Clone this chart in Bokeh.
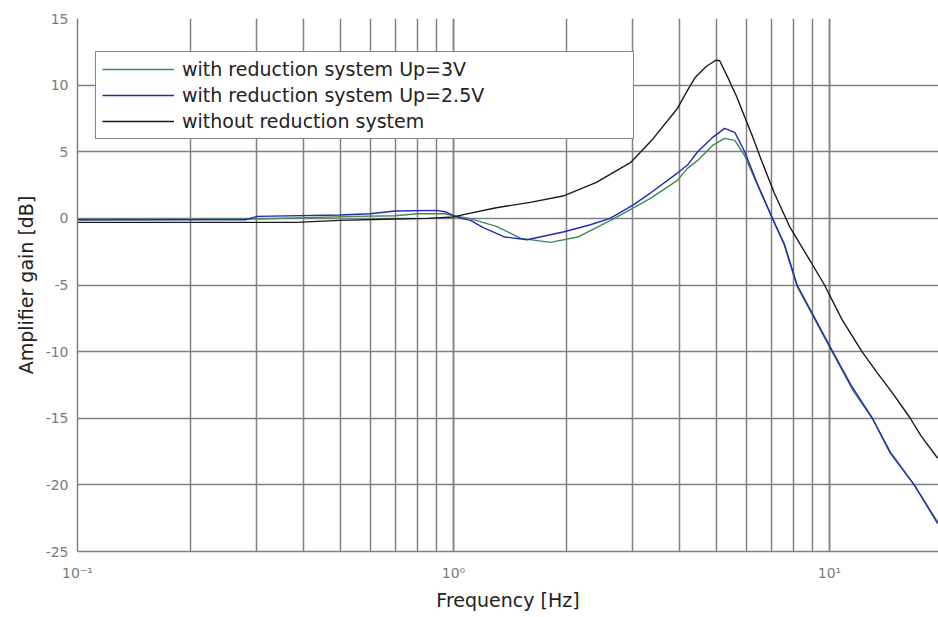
from bokeh.plotting import figure
from bokeh.models import FixedTicker, LogTicker, Legend, LegendItem
from bokeh.embed import file_html
from bokeh.resources import INLINE

# ---- data ----
freq_black = [0.1, 0.2, 0.38, 0.5, 0.7, 0.85, 1.0, 1.07, 1.3, 1.6, 1.97, 2.4, 2.96, 3.4,
              3.94, 4.19, 4.4, 4.7, 4.97, 5.1, 5.36, 5.65, 5.95, 6.25, 6.54, 7.13, 7.86,
              8.89, 9.7, 10.8, 12.2, 13.4, 14.7, 16.4, 17.5, 19.4]
gain_black = [-0.3, -0.3, -0.3, -0.15, -0.05, 0.0, 0.1, 0.3, 0.8, 1.2, 1.7, 2.7, 4.2, 6.0,
              8.25, 9.6, 10.6, 11.4, 11.85, 11.85, 10.6, 9.2, 7.6, 6.1, 4.6, 1.9, -0.7,
              -3.2, -5.0, -7.6, -10.0, -11.6, -13.1, -15.0, -16.3, -18.0]

freq_blue = [0.1, 0.28, 0.3, 0.5, 0.6, 0.7, 0.9, 0.95, 1.0, 1.05, 1.11, 1.2, 1.37, 1.57,
             1.97, 2.3, 2.61, 3.0, 3.34, 3.94, 4.19, 4.46, 4.9, 5.26, 5.6, 5.95, 6.43,
             7.05, 7.58, 8.2, 10.2, 11.4, 13.0, 14.5, 16.8, 19.4]
gain_blue = [-0.1, -0.1, 0.15, 0.25, 0.35, 0.55, 0.6, 0.5, 0.2, 0.0, -0.15, -0.7, -1.4, -1.6,
             -1.0, -0.5, 0.0, 1.0, 1.9, 3.4, 4.0, 5.0, 6.1, 6.75, 6.45, 5.0, 2.6,
             0.0, -1.9, -5.0, -10.0, -12.5, -15.0, -17.6, -20.0, -22.9]

freq_green = [0.1, 0.3, 0.55, 0.7, 0.8, 0.95, 1.0, 1.1, 1.3, 1.51, 1.81, 2.14, 2.68, 3.34,
              3.94, 4.19, 4.46, 4.9, 5.26, 5.6, 5.95, 6.43, 7.05, 7.58, 8.2, 10.2, 11.6,
              13.0, 14.5, 16.8, 19.4]
gain_green = [-0.1, -0.05, 0.15, 0.2, 0.35, 0.35, 0.2, 0.0, -0.6, -1.5, -1.8, -1.4, 0.0, 1.5,
              2.85, 3.75, 4.35, 5.5, 6.0, 5.85, 4.7, 2.5, 0.0, -2.0, -5.1, -10.1, -13.0,
              -15.0, -17.5, -20.0, -22.8]

series_labels = ["with reduction system Up=3V",
                 "with reduction system Up=2.5V",
                 "without reduction system"]

y_ticks = [-25, -20, -15, -10, -5, 0, 5, 10, 15]
y_tick_labels = {t: str(t) for t in y_ticks}
x_tick_labels = {0.1: "10\u207b\u00b9", 1: "10\u2070", 10: "10\u00b9"}

FONT = "DejaVu Sans"
GRID = "#808080"

p = figure(frame_width=861, frame_height=533, x_axis_type="log",
           x_range=(0.1, 10 ** 1.2899), y_range=(-25, 15),
           output_backend="svg", toolbar_location=None,
           min_border_left=77, min_border_right=0, min_border_top=18,
           min_border_bottom=0)
p.outline_line_color = None
p.background_fill_color = "white"
p.border_fill_color = "white"

# grids
p.xaxis.ticker = LogTicker(num_minor_ticks=10)
p.yaxis.ticker = FixedTicker(ticks=y_ticks)
for g in (p.xgrid, p.ygrid):
    g.grid_line_color = GRID
    g.grid_line_width = 1.5
p.xgrid.minor_grid_line_color = GRID
p.xgrid.minor_grid_line_width = 1.5

# axes
for ax in (p.xaxis, p.yaxis):
    ax.axis_line_color = GRID
    ax.axis_line_width = 1.5
    ax.major_tick_line_color = None
    ax.minor_tick_line_color = None
    ax.major_tick_in = 0
    ax.major_tick_out = 0
    ax.minor_tick_in = 0
    ax.minor_tick_out = 0
    ax.major_label_text_font = FONT
    ax.major_label_text_font_size = "14px"
    ax.major_label_text_color = "#7a7a7a"
    ax.axis_label_text_font = FONT
    ax.axis_label_text_font_size = "19px"
    ax.axis_label_text_font_style = "normal"
    ax.axis_label_text_color = "#222222"

p.xaxis.major_label_overrides = x_tick_labels
p.yaxis.major_label_overrides = y_tick_labels
p.xaxis.major_label_standoff = 13
p.yaxis.major_label_standoff = 9
p.xaxis.axis_label = "Frequency [Hz]"
p.yaxis.axis_label = "Amplifier gain [dB]"
p.xaxis.axis_label_standoff = 5
p.yaxis.axis_label_standoff = 6

r_green = p.line(freq_green, gain_green, line_color="#3a8a5a", line_width=1.4)
r_blue = p.line(freq_blue, gain_blue, line_color="#2828b4", line_width=1.4)
r_black = p.line(freq_black, gain_black, line_color="#1a1a1a", line_width=1.4)

legend = Legend(items=[LegendItem(label=series_labels[0], renderers=[r_green]),
                       LegendItem(label=series_labels[1], renderers=[r_blue]),
                       LegendItem(label=series_labels[2], renderers=[r_black])],
                location=(18, 412))
legend.border_line_color = "#111111"
legend.border_line_width = 1.5
legend.background_fill_color = "white"
legend.background_fill_alpha = 1.0
legend.label_text_font = FONT
legend.label_text_font_size = "19px"
legend.label_text_color = "#222222"
legend.glyph_width = 72
legend.glyph_height = 20
legend.label_height = 20
legend.label_width = 445
legend.label_standoff = 8
legend.spacing = 4
legend.padding = 6
legend.margin = 0
p.add_layout(legend, "center")

open("out.html", "w").write(file_html(p, INLINE))
